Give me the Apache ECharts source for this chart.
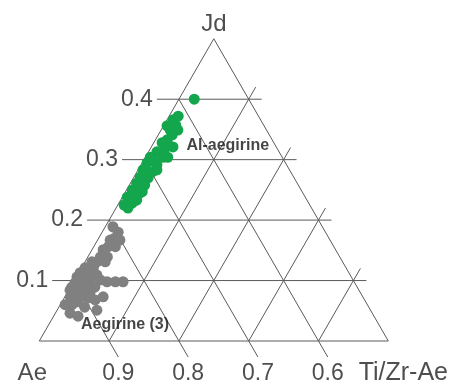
<!DOCTYPE html>
<html>
<head>
<meta charset="utf-8">
<script src="https://cdn.jsdelivr.net/npm/echarts@6/dist/echarts.min.js"></script>
<style>
  html, body { margin: 0; padding: 0; background: #fff; }
  #chart { width: 459px; height: 386px; }
</style>
</head>
<body>
<div id="chart"></div>
<script>
// Ternary components: Jd (top), Ae (bottom left), Ti/Zr-Ae (bottom right).
// Only the Ae-rich half of the triangle is drawn (Ae from 1.0 down to 0.5).
const cornerNames = ['Jd', 'Ae', 'Ti/Zr-Ae'];
const jdTicks = [0.1, 0.2, 0.3, 0.4];
const aeTicks = [0.9, 0.8, 0.7, 0.6];
const tiLines = [0.1, 0.2, 0.3, 0.4];

// Al-aegirine analyses: Jd and Ti/Zr-Ae fractions (Ae = 1 - Jd - Ti/Zr-Ae)
const alAegirineJd = [0.400, 0.372, 0.366, 0.356, 0.349, 0.341, 0.333, 0.321, 0.319, 0.313,
  0.304, 0.304, 0.304, 0.295, 0.291, 0.283, 0.280, 0.271, 0.270, 0.261,
  0.258, 0.250, 0.247, 0.238, 0.228, 0.220, 0.245, 0.233, 0.225, 0.357,
  0.349, 0.328, 0.299, 0.283, 0.242, 0.280, 0.266];
const alAegirineTi = [0.022, 0.013, 0.009, 0.005, 0.024, 0.020, 0.017, 0.031, 0.021, 0.012,
  0.025, 0.007, 0.032, 0.007, 0.023, 0.007, 0.022, 0.009, 0.021, 0.009,
  0.022, 0.008, 0.024, 0.007, 0.019, 0.017, 0.022, 0.023, 0.009, 0.017,
  0.013, 0.012, 0.013, 0.027, 0.016, 0.013, 0.014];

// Aegirine (3) analyses
const aegirineJd = [0.189, 0.180, 0.170, 0.167, 0.167, 0.156, 0.151, 0.156, 0.139, 0.139,
  0.131, 0.131, 0.122, 0.121, 0.113, 0.106, 0.109, 0.109, 0.101, 0.101,
  0.101, 0.098, 0.098, 0.098, 0.089, 0.088, 0.089, 0.089, 0.081, 0.079,
  0.073, 0.073, 0.071, 0.073, 0.060, 0.056, 0.051, 0.046, 0.065, 0.084,
  0.096, 0.076, 0.060, 0.121, 0.131, 0.068, 0.041];
const aegirineTi = [0.011, 0.023, 0.023, 0.018, 0.032, 0.021, 0.016, 0.031, 0.018, 0.028,
  0.017, 0.010, 0.011, 0.005, 0.002, 0.001, 0.014, 0.028, 0.012, 0.022,
  0.037, 0.048, 0.060, 0.071, 0.002, 0.012, 0.024, 0.035, 0.022, 0.033,
  0.008, 0.022, 0.034, 0.055, 0.017, 0.037, 0.057, 0.021, 0.023, 0.002,
  0.003, 0.010, 0.007, 0.017, 0.029, 0.046, 0.035];

// Field names and their anchor compositions [Jd, Ti/Zr-Ae]
const fieldNames = ['Al-aegirine', 'Aegirine (3)'];
const fieldJd = [0.324, 0.0265];
const fieldTi = [0.108, 0.1096];

const H = Math.sqrt(3) / 2;
// ternary -> cartesian (unit-side triangle, Ae corner at origin)
function pt(jd, ti) { return [ti + jd / 2, jd * H]; }

const lineColor = '#5a5a5a';
const font = '"Liberation Sans", Arial, Helvetica, sans-serif';
const series = [];

function seg(a, b) {
  series.push({
    type: 'line', data: [a, b], symbol: 'none', silent: true,
    lineStyle: { color: lineColor, width: 1 }, z: 1, animation: false
  });
}

// triangle outline
seg(pt(0, 0), pt(0, 0.5));
seg(pt(0, 0), pt(0.5, 0));
seg(pt(0, 0.5), pt(0.5, 0));

// constant Jd lines, extended past both edges
const jdExtL = 0.0315, jdExtR = 0.0186;
jdTicks.forEach(k => seg(pt(k, -jdExtL), pt(k, 0.5 - k + jdExtR)));

// constant Ae lines, extended below the base
const aeExt = 0.0265;
aeTicks.forEach(a => seg(pt(-aeExt, 1 - a + aeExt), pt(1 - a, 0)));

// constant Ti/Zr-Ae lines, extended past the right edge
const tiExt = 0.02;
tiLines.forEach(t => seg(pt(0, t), pt(0.5 - t + tiExt, t)));

const tickFont = { fontFamily: font, fontSize: 23, color: '#222' };

// Jd tick labels at the left ends of the lines
series.push({
  type: 'scatter', symbolSize: 0, silent: true, animation: false,
  data: jdTicks.map(k => ({ value: pt(k, -jdExtL), name: k.toFixed(1) })),
  label: Object.assign({ show: true, position: 'left', distance: 4, formatter: p => p.name }, tickFont)
});

// Ae tick labels below the tick ends
series.push({
  type: 'scatter', symbolSize: 0, silent: true, animation: false,
  data: aeTicks.map(a => ({ value: pt(-aeExt, 1 - a + aeExt), name: a.toFixed(1) })),
  label: Object.assign({ show: true, position: 'bottom', distance: 5, formatter: p => p.name }, tickFont)
});

// corner titles
const cornerFont = { fontFamily: font, fontSize: 24, color: '#222' };
series.push({
  type: 'scatter', symbolSize: 0, silent: true, animation: false,
  data: [
    { value: pt(0.5, 0), name: cornerNames[0], label: { position: 'top', distance: 2 } },
    { value: pt(0, 0), name: cornerNames[1], label: { position: 'bottom', distance: 20, offset: [-7, 0] } },
    { value: pt(0, 0.5), name: cornerNames[2], label: { position: 'bottom', distance: 20, offset: [15, 0], fontSize: 25 } }
  ],
  label: Object.assign({ show: true, formatter: p => p.name }, cornerFont)
});

// analyses
series.push({
  type: 'scatter', symbol: 'circle', symbolSize: 11, animation: false, z: 3,
  itemStyle: { color: '#808080', opacity: 1 },
  data: aegirineJd.map((j, i) => pt(j, aegirineTi[i]))
});
series.push({
  type: 'scatter', symbol: 'circle', symbolSize: 11, animation: false, z: 3,
  itemStyle: { color: '#14a64c', opacity: 1 },
  data: alAegirineJd.map((j, i) => pt(j, alAegirineTi[i]))
});

// field names
series.push({
  type: 'scatter', symbolSize: 0, silent: true, animation: false, z: 4,
  data: fieldNames.map((n, i) => ({ value: pt(fieldJd[i], fieldTi[i]), name: n })),
  label: {
    show: true, position: 'inside', formatter: p => p.name,
    fontFamily: font, fontSize: 16, fontWeight: 'bold', color: '#151515'
  }
});

// pixel scale: 698 px per unit side, Ae corner at (39.3, 341)
const S = 698, X0 = 39.3, Y0 = 341, W = 459, HT = 386;
const chart = echarts.init(document.getElementById('chart'), null, { renderer: 'canvas' });
chart.setOption({
  backgroundColor: '#ffffff',
  animation: false,
  grid: { left: 0, right: 0, top: 0, bottom: 0 },
  xAxis: { type: 'value', min: -X0 / S, max: (W - X0) / S, show: false },
  yAxis: { type: 'value', min: -(HT - Y0) / S, max: Y0 / S, show: false },
  series: series
});
</script>
</body>
</html>
